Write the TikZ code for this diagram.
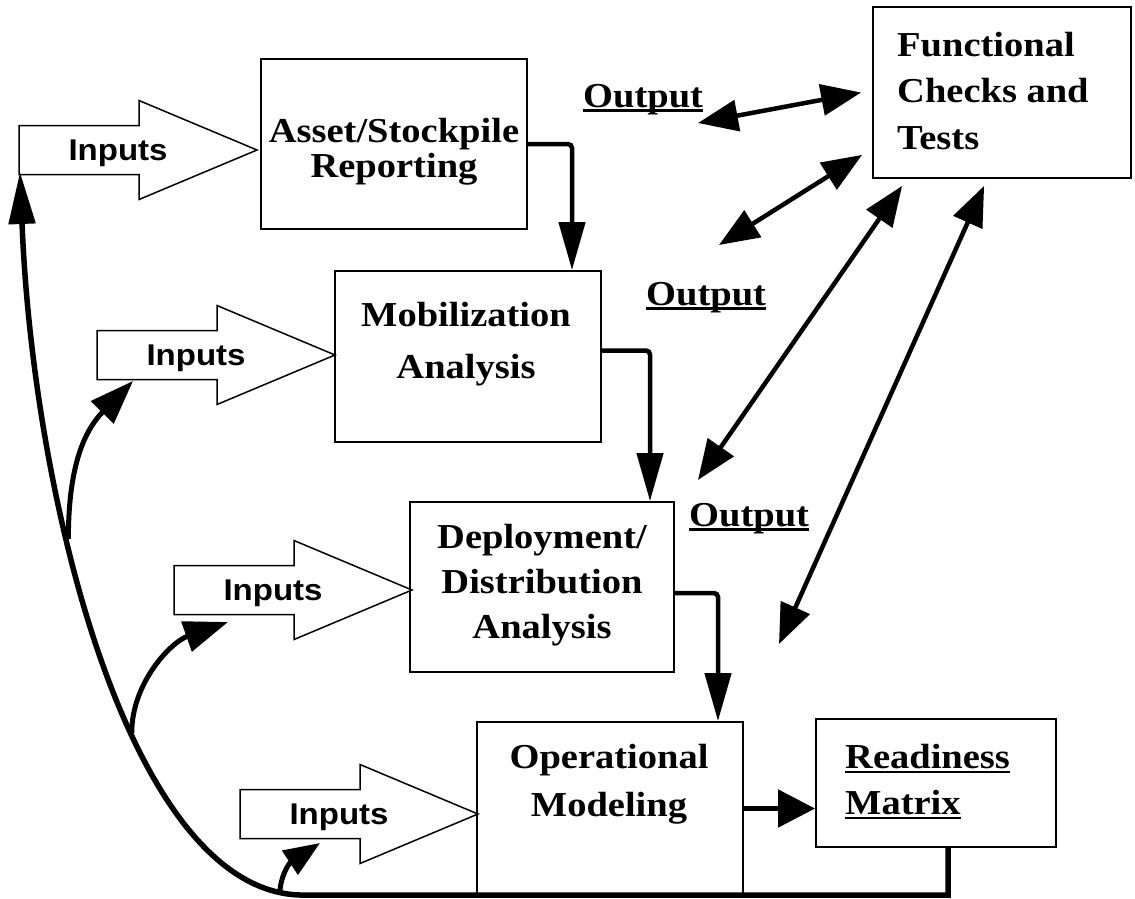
\documentclass[tikz,border=0pt]{standalone}
\usepackage{fontspec}
\setmainfont{Liberation Serif}[FakeStretch=1.1]
\newfontfamily\inputsfont{Liberation Sans}[FakeStretch=1.1]
\usetikzlibrary{arrows.meta}

\newcommand{\boxfont}{\fontsize{35}{46.5}\selectfont\bfseries}
\newcommand{\infont}{\inputsfont\fontsize{30}{36}\selectfont\bfseries}
\newcommand{\undl}[1]{\setbox0=\hbox{#1}\rlap{\rule[-4.5pt]{\wd0}{2.2pt}}\box0}

% block arrow: name, tail x, centre y
\newcommand{\inputArrow}[3]{%
  \draw[inShape] (#2,#3-24.5) -- (#2+120,#3-24.5) -- (#2+120,#3-49.5) -- (#2+238,#3)
    -- (#2+120,#3+49.5) -- (#2+120,#3+24.5) -- (#2,#3+24.5) -- cycle;
  \coordinate (#1) at (#2,#3+24.5);
  \node[inText] (#1Text) at (#2+99,#3+10) {Inputs};}

\begin{document}
\begin{tikzpicture}[x=1pt,y=-1pt,
    procBox/.style={draw,line width=1.8pt,inner sep=0pt},
    boxText/.style={font=\boxfont,align=center,inner sep=0pt,anchor=north},
    inShape/.style={draw,line width=1.5pt,fill=white,line join=miter},
    inText/.style={font=\infont,inner sep=0pt,anchor=base},
    outText/.style={font=\boxfont,inner sep=0pt,anchor=base west},
    flowLine/.style={line width=4.5pt,rounded corners=4pt,-{Triangle[length=48pt,width=26pt]}},
    checkLine/.style={line width=4.5pt,{Triangle[length=40pt,width=31pt]}-{Triangle[length=40pt,width=31pt]}},
    feedLine/.style={line width=5pt,-{Triangle[length=44pt,width=31pt]}},
    loopLine/.style={line width=5.5pt,-{Triangle[length=52pt,width=26pt]}}]
    \useasboundingbox (0,0) rectangle (1135,898);

    % process boxes
    \node[procBox,minimum width=266pt,minimum height=170pt] (assetBox) at (394,144) {};
    \node[procBox,minimum width=266pt,minimum height=171pt] (mobBox) at (468,356.5) {};
    \node[procBox,minimum width=264pt,minimum height=170pt] (depBox) at (542,587) {};
    \node[procBox,minimum width=266pt,minimum height=173pt] (opBox) at (610,808.5) {};
    \node[procBox,minimum width=240pt,minimum height=128pt] (readyBox) at (936,783) {};
    \node[procBox,minimum width=258pt,minimum height=171pt] (funcBox) at (1002,92.5) {};

    \node[boxText] (assetText) at (394,118) {Asset/Stockpile\\[-11.5pt]Reporting};
    \node[boxText] (mobText) at (466,302) {Mobilization\\[5.5pt]Analysis};
    \node[boxText] (depText) at (542,524) {Deployment/\\[-1.5pt]Distribution\\[-1.5pt]Analysis};
    \node[boxText] (opText) at (609,744) {Operational\\[1.5pt]Modeling};
    \node[boxText,align=left,anchor=north west] (readyText) at (845,744) {\undl{Readiness}\\\undl{Matrix}};
    \node[boxText,align=left,anchor=north west] (funcText) at (897,32) {Functional\\Checks and\\Tests};

    \node[outText] (outA) at (583,107) {\undl{Output}};
    \node[outText] (outB) at (646,305) {\undl{Output}};
    \node[outText] (outC) at (689,526) {\undl{Output}};

    % inputs
    \inputArrow{inA}{19}{150}
    \inputArrow{inB}{97}{355}
    \inputArrow{inC}{174}{590}
    \inputArrow{inD}{240}{814}

    % flow down the chain
    \draw[flowLine] (assetBox.east) -| ([xshift=104pt]mobBox.north);
    \draw[flowLine] ([yshift=6pt]mobBox.east) -| ([xshift=108pt]depBox.north);
    \draw[flowLine] ([yshift=-6pt]depBox.east) -| ([xshift=108pt]opBox.north);
    \draw[line width=5pt,-{Triangle[length=37pt,width=37pt]}] (opBox.east) -- (opBox.east -| readyBox.west);

    % links to the checks
    \coordinate (fbA) at (698,123);
    \coordinate (fbB) at (719,245);
    \coordinate (fbC) at (698,480);
    \coordinate (fbD) at (779,644);
    \draw[checkLine] (fbA) -- ([xshift=-11pt]funcBox.west);
    \draw[checkLine] (fbB) -- ([shift={(-10,-24)}]funcBox.south west);
    \draw[checkLine] (fbC) -- ([shift={(30,7)}]funcBox.south west);
    \draw[checkLine] (fbD) -- ([shift={(112,7)}]funcBox.south west);

    % feedback loop
    \coordinate (loopStart) at (300,895);
    \draw[loopLine] ([xshift=12pt]readyBox.south) |- (loopStart) .. controls (130,890) and (33,500) .. ([shift={(1,-2.5)}]inA)
        coordinate[pos=0.04] (loopD) coordinate[pos=0.4] (loopC) coordinate[pos=0.63] (loopB);

    \draw[feedLine] (loopB) .. controls ([yshift=70pt]loopB) and (83,432) .. ([shift={(36,1.5)}]inB);
    \draw[feedLine] (loopC) .. controls ([yshift=50pt]loopC) and (171,642) .. ([shift={(54,7.5)}]inC);
    \draw[line width=5pt,-{Triangle[length=36pt,width=28pt]}] (loopD) .. controls ([yshift=14pt]loopD) and (288,864) .. ([shift={(80,4.5)}]inD);

\end{tikzpicture}
\end{document}
